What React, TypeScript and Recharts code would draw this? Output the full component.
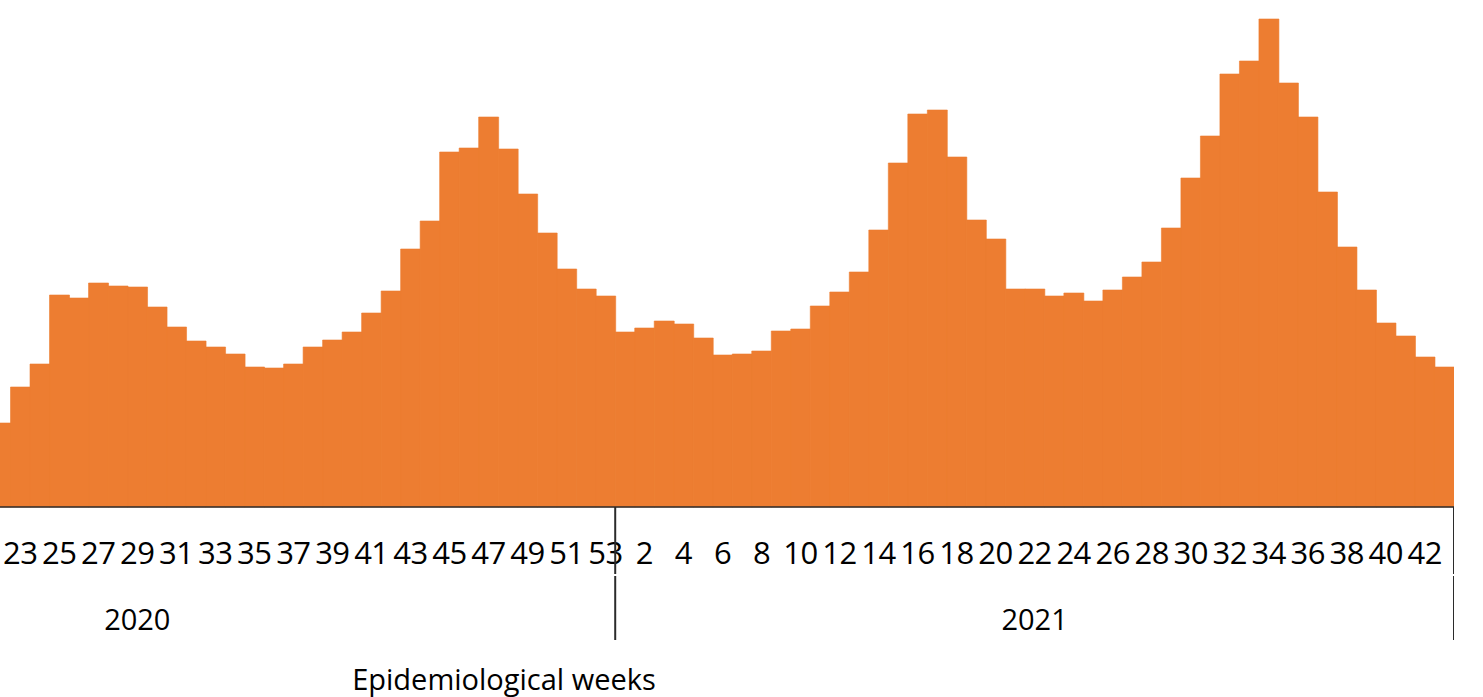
import React from 'react';
import { BarChart, Bar, XAxis, YAxis } from 'recharts';

// weekly counts (pixel heights above the baseline)
const weeks2020 = [22, 23, 24, 25, 26, 27, 28, 29, 30, 31, 32, 33, 34, 35, 36, 37, 38, 39, 40, 41, 42, 43, 44, 45, 46, 47, 48, 49, 50, 51, 52, 53];
const cases2020 = [84, 120, 143, 212, 209, 224, 221, 220, 200, 180, 166, 160, 153, 140, 139, 143, 160, 167, 175, 194, 216, 258, 286, 355, 359, 390, 358, 313, 274, 238, 218, 211];

const weeks2021 = [1, 2, 3, 4, 5, 6, 7, 8, 9, 10, 11, 12, 13, 14, 15, 16, 17, 18, 19, 20, 21, 22, 23, 24, 25, 26, 27, 28, 29, 30, 31, 32, 33, 34, 35, 36, 37, 38, 39, 40, 41, 42, 43];
const cases2021 = [175, 179, 186, 183, 169, 152, 153, 156, 176, 178, 201, 215, 235, 277, 344, 393, 397, 350, 287, 268, 218, 218, 211, 214, 206, 217, 230, 245, 279, 329, 371, 433, 446, 488, 424, 390, 315, 260, 217, 184, 171, 150, 140];

// week numbers that get a label on the axis
const tickLabels2020 = [23, 25, 27, 29, 31, 33, 35, 37, 39, 41, 43, 45, 47, 49, 51, 53];
const tickLabels2021 = [2, 4, 6, 8, 10, 12, 14, 16, 18, 20, 22, 24, 26, 28, 30, 32, 34, 36, 38, 40, 42];

const years = [2020, 2021];
// week under which each year label is centred
const yearLabelWeeks = [29, 22];

const data = [
    ...weeks2020.map((w, i) => ({ key: `2020-${w}`, year: 2020, week: w, cases: cases2020[i] })),
    ...weeks2021.map((w, i) => ({ key: `2021-${w}`, year: 2021, week: w, cases: cases2021[i] })),
];

const tickLabels: Record<number, number[]> = { 2020: tickLabels2020, 2021: tickLabels2021 };

const FONT = '"Open Sans", sans-serif';
const ORANGE = '#ED7D31';
const LINE = '#2b2b2b';
const CHART_W = 1463;
const WEEK_AXIS_H = 68;
const YEAR_AXIS_H = 65;

const WeekTick = ({ x, y, index }: any) => {
    const d = data[index];
    if (!d || !tickLabels[d.year].includes(d.week)) return <g />;
    return (
        <text x={x} y={y + 57} textAnchor="middle" fontFamily={FONT} fontSize={31} letterSpacing={-0.5} fill="#000">
            {d.week}
        </text>
    );
};

const YearTick = ({ x, y, index, payload }: any) => {
    const d = data[index];
    if (!d) return <g />;
    const half = payload && payload.offset ? payload.offset : CHART_W / data.length / 2;
    const next = data[index + 1];
    const yi = years.indexOf(d.year);
    return (
        <g>
            {(!next || next.year !== d.year) && (
                <g stroke={LINE} strokeWidth={2}>
                    <line x1={x + half} x2={x + half} y1={y - WEEK_AXIS_H} y2={y - 1} />
                    <line x1={x + half} x2={x + half} y1={y + 1} y2={y + YEAR_AXIS_H} />
                </g>
            )}
            {d.week === yearLabelWeeks[yi] && (
                <text x={x} y={y + 55} textAnchor="middle" fontFamily={FONT} fontSize={29} fill="#000">
                    {d.year}
                </text>
            )}
        </g>
    );
};

export default function App() {
    return (
        <div style={{ position: 'absolute', left: -9.5, top: 0, width: CHART_W, height: 697 }}>
            <BarChart
                width={CHART_W}
                height={697}
                data={data}
                margin={{ top: 0, right: 0, left: 0, bottom: 57 }}
                barCategoryGap={0}
            >
                <YAxis hide domain={[0, 507]} />
                <XAxis
                    dataKey="key"
                    height={WEEK_AXIS_H}
                    interval={0}
                    tickSize={0}
                    tickMargin={0}
                    tickLine={false}
                    axisLine={{ stroke: LINE, strokeWidth: 1.5 }}
                    tick={<WeekTick />}
                />
                <XAxis
                    xAxisId="year"
                    dataKey="key"
                    height={YEAR_AXIS_H}
                    interval={0}
                    tickSize={0}
                    tickMargin={0}
                    tickLine={false}
                    axisLine={false}
                    tick={<YearTick />}
                />
                <Bar dataKey="cases" fill={ORANGE} stroke={ORANGE} strokeWidth={0.6} isAnimationActive={false} />
            </BarChart>
            <div
                style={{
                    position: 'absolute',
                    left: 213.5,
                    width: 600,
                    top: 661,
                    textAlign: 'center',
                    fontFamily: FONT,
                    fontSize: 29,
                    lineHeight: '36px',
                    color: '#000',
                }}
            >
                Epidemiological weeks
            </div>
        </div>
    );
}
